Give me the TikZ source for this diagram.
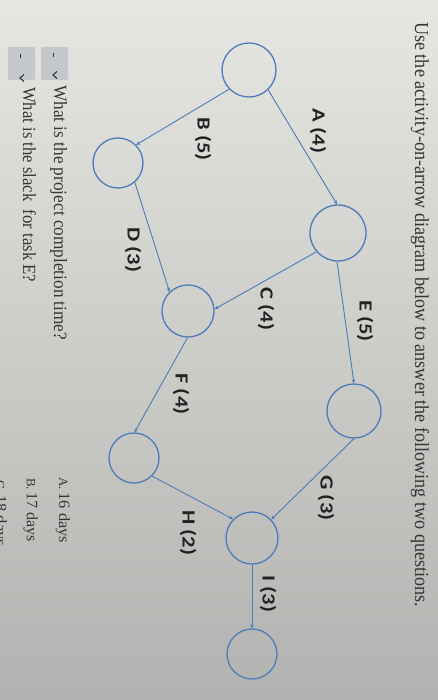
\documentclass[tikz,border=0pt]{standalone}
\usepackage{fontspec}
\usepackage{graphicx}
\setmainfont{Liberation Serif}
\newfontfamily\lblfont{Carlito}
\usetikzlibrary{arrows.meta}
\definecolor{lineblue}{HTML}{4C7CBA}
\definecolor{inkgray}{HTML}{363636}
\definecolor{labelink}{HTML}{222222}
\definecolor{bglight}{HTML}{E6E6E2}
\definecolor{bgmid}{HTML}{D2D2CF}
\definecolor{bgdark}{HTML}{B2B2B0}
\definecolor{boxgray}{HTML}{C4C7CB}
\tikzset{
  event/.style={circle, draw=lineblue, line width=1.3pt, minimum size=#1pt, inner sep=0pt},
  act/.style={draw=lineblue, line width=0.9pt, -{Stealth[length=4pt,width=3.5pt]}},
  actlabel/.style={rotate=-90, anchor=center, inner sep=0pt, text=labelink, font=\lblfont\bfseries\fontsize{18.5}{18.5}\selectfont},
  rtext/.style={rotate=-90, anchor=base west, inner sep=0pt, text=inkgray},
  ddbox/.style={fill=boxgray, draw=none, rounded corners=1pt}
}
\newcommand\lbltxt[1]{\scalebox{1.22}[1]{#1}}
\begin{document}
\begin{tikzpicture}[x=1pt,y=-1pt]
\useasboundingbox (0,0) rectangle (438,700);
\shade[shading angle=-40, top color=bglight, middle color=bgmid, bottom color=bgdark] (0,0) rectangle (438,700);

% title
\node[rtext] (title) at (415,22) {\resizebox{585pt}{14pt}{Use the activity-on-arrow diagram below to answer the following two questions.}};

% events
\node[event=54] (s) at (249,70) {};
\node[event=50] (n2) at (118,163) {};
\node[event=56] (n3) at (338,233) {};
\node[event=52] (n4) at (188,311) {};
\node[event=54] (n5) at (354,411) {};
\node[event=50] (n8) at (134,458) {};
\node[event=52] (n6) at (252,538) {};
\node[event=50] (n7) at (252,654) {};

% activities
\draw[act] (s.-46) -- (n3.92);
\draw[act] (s.-136) -- (n2.45);
\draw[act] (n2.-49) -- (n4.134);
\draw[act] (n3.-139) -- (n4.4);
\draw[act] (n3.-92) -- (n5.90);
\draw[act] (n4.-91) -- (n8.89);
\draw[act] (n5.-90) -- (n6.44);
\draw[act] (n8.-45) -- (n6.135);
\draw[act] (n6.-90) -- (n7.90);

% labels
\node[actlabel] (la) at (318,131) {\lbltxt{A (4)}};
\node[actlabel] (lb) at (203,139) {\lbltxt{B (5)}};
\node[actlabel] (lc) at (266,309) {\lbltxt{C (4)}};
\node[actlabel] (ld) at (133,250) {\lbltxt{D (3)}};
\node[actlabel] (le) at (365,321) {\lbltxt{E (5)}};
\node[actlabel] (lf) at (181,394) {\lbltxt{F (4)}};
\node[actlabel] (lg) at (326,498) {\lbltxt{G (3)}};
\node[actlabel] (lh) at (188,533) {\lbltxt{H (2)}};
\node[actlabel] (li) at (268,594) {\lbltxt{I (3)}};

% question dropdowns
\fill[ddbox] (41,47) rectangle (68,80);
\fill[ddbox] (8,47) rectangle (35,80);
\draw[inkgray, line width=0.8pt] (53,53) -- (53,57);
\draw[inkgray, line width=0.8pt] (20,54) -- (20,58);
\draw[inkgray, line width=1.1pt] (57,71.5) -- (53,75) -- (57,78.5);
\draw[inkgray, line width=1.1pt] (24,74.5) -- (20,78) -- (24,81.5);

% questions
\node[rtext] (q1) at (54,85) {\resizebox{255pt}{13pt}{What is the project completion time?}};
\node[rtext] (q2) at (23,87) {\resizebox{195pt}{13pt}{What is the slack\ \ for task E?}};

% answers
\node[rtext] (aa) at (59,477) {\resizebox{66pt}{11pt}{{\fontsize{8}{8}\selectfont A.}\,16 days}};
\node[rtext] (ab) at (27,478) {\resizebox{64pt}{11pt}{{\fontsize{8}{8}\selectfont B.}\,17 days}};
\node[rtext] (ac) at (-4,480) {\resizebox{66pt}{11pt}{{\fontsize{8}{8}\selectfont C.}\,18 days}};
\end{tikzpicture}
\end{document}
